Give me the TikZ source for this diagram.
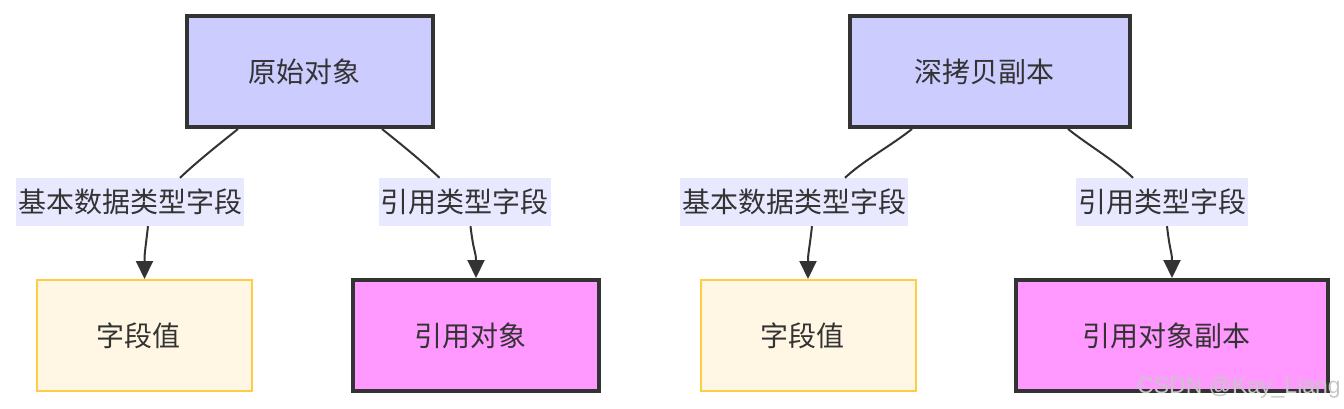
\documentclass[tikz,border=0pt]{standalone}
\usepackage{fontspec}
\newfontfamily\cjk{Noto Sans CJK SC}
\newfontfamily\wmfont{Liberation Sans}
\usetikzlibrary{arrows.meta}

\definecolor{ink}{HTML}{333333}
\definecolor{objblue}{HTML}{CCCCFF}
\definecolor{refpink}{HTML}{FF99FF}
\definecolor{valfill}{HTML}{FFF7E4}
\definecolor{valline}{HTML}{FFCC44}
\definecolor{lblfill}{HTML}{E8E8FF}

\begin{document}
\begin{tikzpicture}[
    x=1pt, y=-1pt,
    obj/.style={draw=ink, line width=4pt, minimum height=111pt, inner sep=0pt,
        font=\cjk\fontsize{28}{32}\selectfont, text=ink,
        execute at begin node=\hspace*{-12pt}},
    srcbox/.style={obj, fill=objblue},
    refbox/.style={obj, fill=refpink},
    valbox/.style={obj, draw=valline, line width=2pt, fill=valfill,
        minimum width=215pt},
    elbl/.style={fill=lblfill, minimum height=48pt, inner xsep=2pt, inner ysep=0pt,
        font=\cjk\fontsize{28}{32}\selectfont, text=ink},
    edge/.style={draw=ink, line width=2pt},
    arr/.style={edge, -{Triangle[length=18pt,width=17pt]}}
]
\useasboundingbox (0,0) rectangle (1344,408);

% --- left: original object ---
\node[srcbox, minimum width=246pt] (orig) at (310,71.5) {原始对象};
\node[valbox] (valA) at (144.5,335.5) {字段值};
\node[refbox, minimum width=246pt] (refA) at (476,335.5) {引用对象};
\node[elbl] (primA) at (130,202) {基本数据类型字段};
\node[elbl] (refLblA) at (464.5,202) {引用类型字段};

\draw[edge] ([xshift=-72pt]orig.south) .. controls +(-20,16) and +(18,-17) .. ([xshift=50pt]primA.north);
\draw[arr] ([xshift=18pt]primA.south) .. controls +(-3,26) and +(0,-26) .. (valA.north);
\draw[edge] ([xshift=72pt]orig.south) .. controls +(20,16) and +(-18,-17) .. ([xshift=-25pt]refLblA.north);
\draw[arr] ([xshift=6pt]refLblA.south) .. controls +(3,26) and +(0,-26) .. (refA.north);

% --- right: deep copy ---
\node[srcbox, minimum width=280pt] (copy) at (990,71.5) {深拷贝副本};
\node[valbox] (valB) at (808,335.5) {字段值};
\node[refbox, minimum width=312pt] (refB) at (1172,335.5) {引用对象副本};
\node[elbl] (primB) at (794,202) {基本数据类型字段};
\node[elbl] (refLblB) at (1162,202) {引用类型字段};

\draw[edge] ([xshift=-78pt]copy.south) .. controls +(-20,16) and +(18,-17) .. ([xshift=51pt]primB.north);
\draw[arr] ([xshift=18pt]primB.south) .. controls +(-3,26) and +(0,-26) .. (valB.north);
\draw[edge] ([xshift=78pt]copy.south) .. controls +(20,16) and +(-18,-17) .. ([xshift=-29pt]refLblB.north);
\draw[arr] ([xshift=5pt]refLblB.south) .. controls +(3,26) and +(0,-26) .. (refB.north);

% watermark
\node[anchor=base east, inner sep=0pt, font=\wmfont\fontsize{23}{23}\selectfont,
    text=black!22] (mark) at (1341,393) {CSDN @Kay\_Liang};
\end{tikzpicture}
\end{document}
